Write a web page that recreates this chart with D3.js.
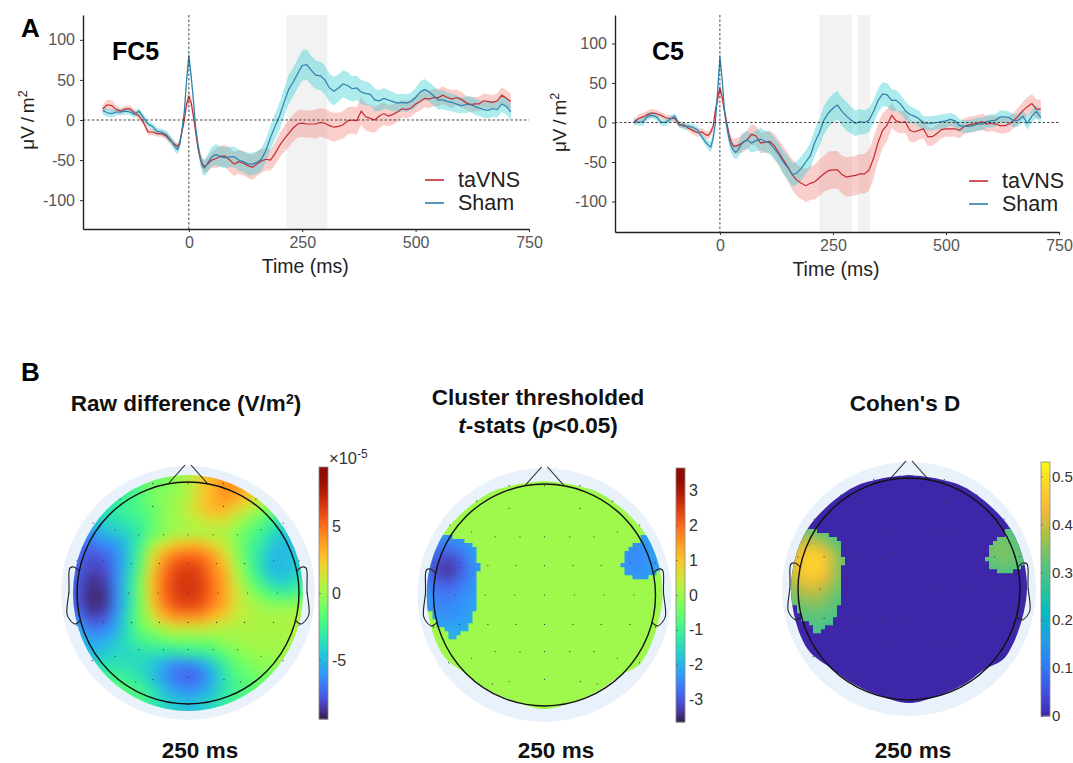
<!DOCTYPE html>
<html>
<head>
<meta charset="utf-8">
<script src="https://cdn.jsdelivr.net/npm/d3@7"></script>
<style>
  body { margin: 0; background: #fff; }
  text { font-family: "Liberation Sans", Arial, sans-serif; }
</style>
</head>
<body>
<div id="chart"></div>
<script>
// time grid of the ERP traces (ms)
var times = [-190,-180,-170,-160,-150,-140,-130,-120,-110,-100,
  -90,-80,-70,-60,-50,-40,
  -30,-25,-20,-15,-10,-5,0,5,10,15,20,25,30,35,40,
  50,60,70,80,90,100,110,120,130,140,
  150,160,170,180,190,200,210,220,230,240,
  250,260,270,280,290,300,310,320,330,340,
  350,360,370,380,390,400,410,420,430,440,
  450,460,470,480,490,500,510,520,530,540,
  550,560,570,580,590,600,610,620,630,640,
  650,660,670,680,690,700,710];

var fc5Tavns = [14,19,18,13,11,14,14,9,5,-3,
  -15,-15,-17,-17,-20,-26,
  -31,-33,-28,-14,0,20,29,22,5,-15,-35,-47,-55,-58,-56,
  -50,-48,-45,-45,-50,-55,-52,-54,-57,-59,
  -55,-51,-49,-50,-42,-32,-24,-17,-10,-5,
  -4,-5,-5,-5,-3,-4,-7,-9,-8,-6,
  -1,0,-1,11,4,2,0,5,8,5,
  7,10,14,13,15,20,23,27,26,28,
  28,31,28,26,28,26,22,19,20,20,
  24,23,22,24,31,27,23];
var fc5TavnsSe = [5,6,7,5,4,4,4,4,4,4,
  4,4,4,4,4,5,
  4,4,4,5,6,7,8,7,7,6,6,7,8,8,9,
  10,12,13,14,15,15,15,15,15,16,
  15,15,14,13,14,15,16,17,17,17,
  17,17,17,18,18,18,18,18,17,17,
  17,17,17,17,17,17,16,15,14,13,
  13,12,11,11,11,11,11,11,11,11,
  11,11,11,11,10,10,9,9,9,9,
  9,9,9,9,10,10,10];
var fc5Sham = [12,9,8,10,10,11,10,7,11,3,
  -5,-8,-14,-15,-18,-25,
  -34,-37,-30,-12,10,50,80,55,25,-10,-30,-48,-58,-60,-55,
  -46,-43,-46,-47,-46,-46,-50,-52,-55,-55,
  -53,-49,-38,-22,-8,5,22,38,47,58,
  68,69,62,56,55,50,40,36,40,45,
  43,39,40,35,33,32,25,24,27,25,
  23,21,22,21,23,28,35,38,35,30,
  25,25,23,22,20,18,19,20,17,15,
  13,12,14,13,20,17,10];
var fc5ShamSe = [5,5,5,4,4,4,4,4,4,4,
  4,4,4,4,5,5,
  6,6,6,7,8,9,10,9,8,7,7,8,9,10,11,
  12,13,13,13,13,13,13,13,14,14,
  14,14,14,15,16,17,17,18,18,18,
  19,19,18,18,18,18,18,18,17,17,
  17,16,15,15,15,14,14,13,13,12,
  12,11,11,11,11,12,13,13,12,12,
  12,12,11,11,11,10,10,10,10,10,
  10,10,10,10,10,10,10];

var c5Tavns = [0,5,7,10,12,11,9,6,5,5,
  -3,-3,-7,-10,-13,-12,
  -16,-16,-12,-5,15,30,43,32,15,0,-15,-25,-30,-30,-29,
  -26,-22,-15,-17,-26,-25,-24,-29,-38,-47,
  -56,-66,-73,-77,-80,-77,-75,-70,-65,-61,
  -60,-60,-66,-69,-68,-67,-65,-65,-60,-45,
  -25,-10,-3,9,2,0,1,-10,-12,-10,
  -8,-18,-18,-14,-9,-8,-8,-8,-10,-5,
  -3,-2,-1,1,-2,-1,-2,-4,-4,-2,
  3,8,15,20,24,17,17];
var c5TavnsSe = [4,5,5,5,5,5,4,4,4,4,
  4,4,4,5,5,5,
  5,5,5,5,6,7,8,8,7,7,7,8,9,10,10,
  12,12,13,13,13,13,14,15,16,17,
  18,19,20,20,21,21,22,23,23,24,
  24,24,24,25,25,25,25,25,26,26,
  24,22,20,16,14,14,14,14,13,12,
  12,12,11,11,11,10,10,10,10,10,
  10,10,10,10,10,10,10,10,10,10,
  10,11,11,12,12,12,12];
var c5Sham = [2,0,1,8,9,7,0,0,4,8,
  -2,-5,-5,-6,-9,-18,
  -26,-29,-31,-20,0,40,83,55,15,-5,-20,-30,-35,-38,-35,
  -25,-22,-26,-23,-21,-24,-26,-33,-40,-50,
  -57,-66,-64,-58,-50,-42,-25,-13,3,12,
  18,22,14,8,3,-1,1,0,3,14,
  28,36,35,28,28,23,15,10,8,5,
  -1,-1,-1,0,1,2,4,2,-4,-5,
  -5,-4,-2,-2,1,2,3,7,7,6,
  2,3,8,-1,8,14,6];
var c5ShamSe = [4,4,5,5,4,4,4,4,4,4,
  4,4,4,4,4,4,
  5,6,7,8,8,8,8,8,8,8,8,9,9,9,9,
  10,11,12,13,14,14,14,14,14,15,
  15,15,15,15,15,16,17,17,18,18,
  18,18,18,18,17,16,16,15,15,15,
  15,15,15,14,13,12,12,11,10,10,
  9,9,9,9,9,9,8,8,8,8,
  8,8,8,8,8,8,8,8,8,8,
  8,8,8,8,8,8,7];

var fc5Windows = [[215, 305]];
var c5Windows = [[220, 292], [305, 332]];
var xTicks = [0, 250, 500, 750];
var yTicks = [-100, -50, 0, 50, 100];

// topography, 21 x 21, in 1e-5 V/m2
var rawDiff = [
  [-3,-3,-3,-3,-3,-3,-2,-1.5,-1,0,.5,2,3,4,4,3,2,1,0,-1,-1],
  [-4,-4,-4,-4,-3.5,-3,-2,-1,-1,-.5,.5,2,3,4,4,3,2,1,0,-1,-1],
  [-4,-4,-4,-4,-3,-2.5,-2,-1,-.5,0,.5,2,3,4,3.5,2.5,1,0,-1,-2,-2],
  [-5,-5,-4.5,-3.5,-3,-2.5,-2,-1.5,-.5,0,1,2,3,3,2,1,0,-1,-2.5,-3.5,-4],
  [-6,-6,-5,-4,-3.5,-3,-2.5,-1.5,-.5,0,.5,1,1.5,1.5,.5,-.5,-1.5,-2.5,-4,-4.5,-5],
  [-6,-6,-6,-5,-4.5,-4,-3,-1.5,-.5,0,.3,.3,.3,.3,-.5,-1.5,-2.5,-3.5,-4.5,-4.5,-5],
  [-7,-7,-7,-6.5,-6,-4.5,-2.5,0,1.5,2.5,3,3,2,1,-.5,-2,-3,-4.5,-5,-5,-5],
  [-7,-7.5,-8,-7.5,-6.5,-4.5,-2,1.5,3.5,5,5.3,5,4,2,0,-2,-3.5,-5,-5,-4.5,-4],
  [-7,-7.5,-8.3,-8.1,-6.5,-4.5,-1.5,2,4.5,6,6.3,6,4.5,3,.5,-1.5,-3.5,-5,-5,-4.5,-4],
  [-7,-8,-8.8,-8.5,-6.5,-4,-1,2.5,5,6.3,6.6,6.3,5,3.5,1,-.8,-2.5,-4,-4.5,-3.5,-3],
  [-7,-8,-9,-8.8,-6.5,-4,-1,2.5,5,6.3,6.6,6.3,5,3.5,1.5,0,-1.2,-2.2,-2.7,-2.3,-2],
  [-7,-8,-9,-8.8,-6.5,-4,-1,2,4.5,5.8,6.1,5.8,4.5,3.5,1.5,.5,0,-.5,-.5,-.5,0],
  [-6,-7,-8.3,-7.9,-6,-3.5,-1,1,3,4,4,4,3,2,1,.5,.3,.3,.3,.5,.5],
  [-5,-5.5,-7,-6.5,-5.5,-3.5,-1.5,-.5,.5,1,1,1,.8,.5,.3,.3,.3,.3,.3,.3,.5],
  [-5,-5,-5.5,-5.5,-4.5,-3.5,-2.5,-2,-1.5,-1,-1,-1,-.8,-.3,0,.2,.2,.2,.2,.2,.2],
  [-5,-5,-5,-4.5,-4,-4,-3.5,-3.5,-3.5,-3.5,-3,-3,-2.5,-1.5,-.8,-.3,0,0,0,0,0],
  [-4,-4,-4,-3.5,-3.5,-3.5,-4,-4.5,-5.5,-6.5,-6.5,-6,-4.5,-3,-1.5,-1,-.5,-.5,0,0,0],
  [-2,-2,-2,-2.5,-2.5,-3,-3.5,-4.5,-6,-7,-7.5,-7,-5.5,-3.5,-2,-1.5,-1,-1,-1,-1,-1],
  [-1.5,-1.5,-1.5,-1.5,-1.5,-2,-2.5,-3.5,-5,-6,-6.5,-6,-5,-3.5,-2.5,-2,-1.5,-1.5,-1.5,-1.5,-1.5],
  [-2,-2,-2,-2,-2,-2,-2,-3,-4,-4.5,-5,-4.5,-4,-3,-2.5,-2,-2,-2,-2,-2,-2],
  [-3,-3,-3,-3,-3,-3,-3,-3,-4,-4.5,-5,-4.5,-4,-3,-3,-3,-3,-3,-3,-3,-3]
];

// significant clusters: left block starts at map column 0, right block at column 15,
// both start at map row 4
var tstatLeft = [
  [-2.3,-2.3,-2.3,-2.3,-2.3,-2.3],
  [-2.4,-2.4,-2.4,-2.3,-2.2,-2.2],
  [-2.5,-2.6,-2.7,-2.5,-2.3,-2.2],
  [-2.6,-3.0,-3.2,-2.9,-2.4,-2.2],
  [-2.6,-3.2,-3.4,-3.0,-2.5,-2.3],
  [-2.5,-2.9,-3.0,-2.7,-2.4,-2.3],
  [-2.3,-2.6,-2.7,-2.5,-2.3,-2.2],
  [-2.3,-2.5,-2.5,-2.4,-2.2,-2.2],
  [-2.2,-2.3,-2.4,-2.3,-2.2,-2.1],
  [-2.1,-2.1,-2.1,-2.1,-2.1,-2.1],
  [-2.1,-2.1,-2.1,-2.1,-2.1,-2.1]
];
var tstatRight = [
  [-2.2,-2.2,-2.2,-2.2,-2.2,-2.2],
  [-2.2,-2.2,-2.3,-2.3,-2.2,-2.2],
  [-2.2,-2.3,-2.4,-2.4,-2.3,-2.2],
  [-2.2,-2.3,-2.5,-2.5,-2.3,-2.2],
  [-2.2,-2.3,-2.4,-2.4,-2.3,-2.2],
  [-2.2,-2.2,-2.3,-2.3,-2.2,-2.2]
];
var cohenLeft = [
  [.32,.32,.32,.32,.32,.32],
  [.33,.33,.32,.30,.30,.30],
  [.37,.39,.39,.36,.31,.30],
  [.40,.44,.47,.44,.36,.31],
  [.40,.46,.49,.46,.37,.31],
  [.38,.44,.46,.43,.36,.31],
  [.34,.39,.41,.38,.34,.31],
  [.32,.35,.36,.35,.32,.30],
  [.31,.32,.33,.32,.31,.30],
  [.30,.30,.31,.30,.29,.29],
  [.30,.30,.30,.30,.30,.30]
];
var cohenRight = [
  [.30,.30,.30,.30,.30,.30],
  [.31,.31,.31,.31,.31,.30],
  [.31,.31,.33,.34,.31,.30],
  [.31,.32,.34,.35,.33,.30],
  [.30,.31,.32,.33,.32,.30],
  [.30,.30,.30,.30,.30,.30]
];

// stepped outline of the clusters: [fine row, first fine col, last fine col]
var leftClusterRows = [[-15,-40,-23],[-14,-40,-20],[-13,-40,-18],[-12,-40,-17],[-11,-40,-17],[-10,-40,-17],[-9,-40,-17],
  [-8,-40,-16],[-7,-40,-16],[-6,-40,-17],[-5,-40,-17],[-4,-40,-17],[-3,-40,-17],[-2,-40,-17],[-1,-40,-17],[0,-40,-17],
  [1,-40,-17],[2,-40,-17],[3,-40,-17],[4,-28,-18],[5,-28,-18],[6,-27,-18],[7,-27,-19],[8,-25,-19],[9,-24,-21],[10,-24,-22]];
var rightClusterRows = [[-15,24,40],[-14,24,40],[-13,22,40],[-12,21,40],[-11,20,40],[-10,20,40],[-9,20,40],[-8,19,40],[-7,20,40],[-6,20,28],[-5,22,26]];

// edge of the thresholded maps, radius by angle
var edgeAngles = [0,15,30,60,90,125,137,150,167,180,193,210,224,240,270,300,330,345,360];
var edgeRadii = [114,114,116,118,118,118,110,110,111,114,111,110,111,118,118,118,116,114,114];

// electrode offsets from the map centre, scalp radius = 1
var electrodes = [[-.318,-.985],[0,-.985],[.318,-.985],[-.612,-.845],[.612,-.845],[-.318,-.78],[.321,-.78],
  [-.854,-.63],[.857,-.63],[-.657,-.57],[.657,-.57],[-.445,-.525],[-.221,-.525],[0,-.525],[.227,-.525],[.445,-.525],
  [-1.0,-.29],[-.765,-.29],[.771,-.29],[1.0,-.29],[-.51,-.265],[-.257,-.265],[0,-.265],[.257,-.265],[.51,-.265],
  [-1.07,0],[-.80,0],[-.536,0],[-.269,0],[0,0],[.269,0],[.536,0],[.805,0],[1.07,0],
  [-.765,.265],[-.51,.265],[-.257,.265],[0,.265],[.257,.265],[.51,.265],[.771,.265],[-1.0,.29],[1.0,.29],
  [-.657,.57],[-.445,.51],[-.221,.51],[0,.51],[.227,.51],[.445,.51],[.657,.57],[-.863,.61],[.857,.61],
  [-.47,.8],[-.318,.78],[0,.76],[.324,.78],[.475,.8],[0,1.0]];

// ear and nose shapes, in px from the map centre
var leftEar = [[-108,-21],[-114,-26],[-118,-25],[-119,-21],[-119,-3],[-121,21],[-118,27],[-113,31],[-107,27]];
var noseLeft = [[-19,-110],[-3,-128]];

// parula stops for the Cohen's D map
var parula = ["#3e26a8","#4352e8","#2f7cf5","#1f9ee3","#06b9c5","#2ac49b","#5ac37d","#a0c24a","#f0b83a","#fdd02e","#f9fb15"];

var svg = d3.select("#chart").append("svg")
    .attr("width", 1073)
    .attr("height", 763)
    .style("display", "block");

var defs = svg.append("defs");
defs.append("filter")
    .attr("id", "soft")
    .attr("color-interpolation-filters", "sRGB")
    .attr("x", "-10%").attr("y", "-10%").attr("width", "120%").attr("height", "120%")
  .append("feGaussianBlur")
    .attr("stdDeviation", 5.5);

//Line panels
function drawTraces(cfg) {
  var x = d3.scaleLinear().domain([cfg.xMin, 750]).range([cfg.left, cfg.right]);
  var y = d3.scaleLinear().domain(cfg.yDomain).range([cfg.bottom, cfg.top]);
  var g = svg.append("g");

  g.selectAll(".window")
      .data(cfg.windows)
    .enter().append("rect")
      .attr("x", function(d) { return x(d[0]); })
      .attr("width", function(d) { return x(d[1]) - x(d[0]); })
      .attr("y", cfg.top)
      .attr("height", cfg.bottom - cfg.top)
      .attr("fill", "#f2f2f2");

  var series = [
    {mean: cfg.tavns, se: cfg.tavnsSe, fill: "#f48a84", line: "#c62a33"},
    {mean: cfg.sham, se: cfg.shamSe, fill: "#3cd0d4", line: "#2f7fae"}
  ];
  var area = d3.area()
      .x(function(d) { return x(d.t); })
      .y0(function(d) { return y(d.v - d.s); })
      .y1(function(d) { return y(d.v + d.s); });
  var line = d3.line()
      .x(function(d) { return x(d.t); })
      .y(function(d) { return y(d.v); });

  series.forEach(function(s) {
    var rows = times.map(function(t, i) { return {t: t, v: s.mean[i], s: s.se[i]}; });
    s.rows = rows;
    g.append("path").attr("d", area(rows)).attr("fill", s.fill).attr("opacity", 0.42);
  });
  series.forEach(function(s) {
    g.append("path").attr("d", line(s.rows)).attr("fill", "none").attr("stroke", s.line).attr("stroke-width", 1.2);
  });

  // reference lines
  g.append("line")
      .attr("x1", cfg.left).attr("x2", cfg.right + 0)
      .attr("y1", y(0)).attr("y2", y(0))
      .attr("stroke", "#333").attr("stroke-width", 0.9).attr("stroke-dasharray", "2.5,2");
  g.append("line")
      .attr("x1", x(0)).attr("x2", x(0))
      .attr("y1", cfg.top).attr("y2", cfg.bottom)
      .attr("stroke", "#333").attr("stroke-width", 0.9).attr("stroke-dasharray", "2.5,2");

  var plain = function(d) { return String(d); };
  var xAxis = g.append("g")
      .attr("transform", "translate(0," + cfg.bottom + ")")
      .call(d3.axisBottom(x).tickValues(xTicks).tickFormat(plain).tickSize(3).tickSizeOuter(0).tickPadding(5));
  var yAxis = g.append("g")
      .attr("transform", "translate(" + cfg.left + ",0)")
      .call(d3.axisLeft(y).tickValues(yTicks).tickFormat(plain).tickSize(3).tickSizeOuter(0).tickPadding(5));
  [xAxis, yAxis].forEach(function(a) {
    a.select(".domain").attr("stroke", "#222").attr("stroke-width", 1.4);
    a.selectAll(".tick line").attr("stroke", "#333");
    a.selectAll("text").style("font-size", "16px").attr("fill", "#555");
  });

  g.append("text")
      .attr("x", x(250) + 3).attr("y", cfg.bottom + 44)
      .attr("text-anchor", "middle")
      .style("font-size", "19.5px").attr("fill", "#222")
      .text("Time (ms)");
  var yl = g.append("text")
      .attr("transform", "translate(" + cfg.yLabelX + "," + y(0) + ") rotate(-90)")
      .attr("text-anchor", "middle")
      .style("font-size", "19px").attr("fill", "#222");
  yl.append("tspan").text("μV\u2009/\u2009m");
  yl.append("tspan").attr("dy", -7).style("font-size", "12.5px").text("2");

  g.append("text")
      .attr("x", cfg.nameX).attr("y", 60)
      .style("font-size", "25px").style("font-weight", "bold").attr("fill", "#000")
      .text(cfg.name);

  // legend
  var names = ["taVNS", "Sham"];
  names.forEach(function(n, i) {
    var ly = cfg.legendY + i * 23;
    g.append("line")
        .attr("x1", cfg.legendX).attr("x2", cfg.legendX + 19)
        .attr("y1", ly).attr("y2", ly)
        .attr("stroke", series[i].line).attr("stroke-width", 1.6);
    g.append("text")
        .attr("x", cfg.legendX + 33).attr("y", ly + 7)
        .style("font-size", "21.5px").attr("fill", "#222")
        .text(n);
  });
}

drawTraces({name: "FC5", nameX: 112, windows: fc5Windows,
  tavns: fc5Tavns, tavnsSe: fc5TavnsSe, sham: fc5Sham, shamSe: fc5ShamSe,
  left: 83, right: 529, xMin: -233.4, top: 15, bottom: 229, yDomain: [-136, 131],
  yLabelX: 34, legendX: 425, legendY: 180});
drawTraces({name: "C5", nameX: 652, windows: c5Windows,
  tavns: c5Tavns, tavnsSe: c5TavnsSe, sham: c5Sham, shamSe: c5ShamSe,
  left: 615, right: 1059, xMin: -232, top: 15, bottom: 232, yDomain: [-138.6, 136],
  yLabelX: 566, legendX: 969, legendY: 181});

//Topographic maps
var gridStep = 12;   // px between cells of the coarse map
var fineStep = 4;    // px between rows of the stepped cluster outline

function cellBlock(g, rows, col0, row0, color) {
  rows.forEach(function(r, j) {
    g.selectAll(null)
        .data(r)
      .enter().append("rect")
        .attr("x", function(d, i) { return (col0 + i - 10) * gridStep - gridStep / 2 - 0.2; })
        .attr("y", (row0 + j - 10) * gridStep - gridStep / 2 - 0.2)
        .attr("width", gridStep + 0.4)
        .attr("height", gridStep + 0.4)
        .attr("fill", function(d) { return color(d); });
  });
}

function headOutline(g) {
  var sc = 111;
  var earPath = d3.line().curve(d3.curveCatmullRom);
  g.append("circle").attr("r", sc).attr("fill", "none").attr("stroke", "#111").attr("stroke-width", 1.4);
  [1, -1].forEach(function(side) {
    g.append("path")
        .attr("d", earPath(leftEar.map(function(p) { return [side * p[0], p[1]]; })))
        .attr("fill", "none").attr("stroke", "#222").attr("stroke-width", 1.1);
    g.append("path")
        .attr("d", d3.line()(noseLeft.map(function(p) { return [side * p[0], p[1]]; })))
        .attr("fill", "none").attr("stroke", "#222").attr("stroke-width", 1.1);
  });
  g.selectAll(".electrode")
      .data(electrodes)
    .enter().append("circle")
      .attr("class", "electrode")
      .attr("cx", function(d) { return d[0] * sc; })
      .attr("cy", function(d) { return d[1] * sc; })
      .attr("r", 0.6)
      .attr("fill", "#333");
}

function drawColorbar(cfg) {
  var y = d3.scaleLinear().domain(cfg.domain).range([cfg.y1, cfg.y0]);
  var g = svg.append("g");
  var steps = d3.range(cfg.y0, cfg.y1, 2);
  g.selectAll("rect.step")
      .data(steps)
    .enter().append("rect")
      .attr("class", "step")
      .attr("x", cfg.x)
      .attr("y", function(d) { return d; })
      .attr("width", 9)
      .attr("height", 2.4)
      .attr("fill", function(d) { return cfg.color(y.invert(d + 1)); });
  g.append("rect")
      .attr("x", cfg.x).attr("y", cfg.y0)
      .attr("width", 9).attr("height", cfg.y1 - cfg.y0)
      .attr("fill", "none").attr("stroke", "#888").attr("stroke-width", 0.8);
  var axis = g.append("g")
      .attr("transform", "translate(" + (cfg.x + 9) + ",0)")
      .call(d3.axisRight(y).tickValues(cfg.ticks).tickSize(0).tickPadding(cfg.pad)
        .tickFormat(function(d) { return d; }));
  axis.select(".domain").remove();
  axis.selectAll("text").style("font-size", cfg.fontSize).attr("fill", "#333");
  axis.selectAll(".tick").append("line")
      .attr("x1", -9).attr("x2", -7).attr("stroke", "#555").attr("stroke-width", 0.7);
  return g;
}

// matlab turbo sits a touch further along than d3's fit
var turbo = function(t) { return d3.interpolateTurbo(Math.min(1, t + 0.012)); };
var rawColor = d3.scaleSequential(turbo).domain([-9.4, 9.4]);
var tColor = d3.scaleSequential(turbo).domain([-3.65, 3.65]);
var dColor = d3.scaleLinear()
    .domain(parula.map(function(c, i) { return 0.53 * i / (parula.length - 1); }))
    .range(parula);

var mapSpecs = [
  {id: "raw", cx: 188, cy: 593},
  {id: "tstat", cx: 544.5, cy: 595, base: tColor(0), left: tstatLeft, right: tstatRight, color: tColor, under: tColor(-2.3)},
  {id: "cohen", cx: 909, cy: 589, base: dColor(0), left: cohenLeft, right: cohenRight, color: dColor, under: dColor(0.31)}
];
var edgeLine = d3.lineRadial()
    .angle(function(d, i) { return edgeAngles[i] * Math.PI / 180; })
    .radius(function(d) { return d; })
    .curve(d3.curveCatmullRomClosed);

// stepped cluster mask shared by the two thresholded maps
var clusterClip = defs.append("clipPath").attr("id", "cluster-clip");
leftClusterRows.concat(rightClusterRows).forEach(function(r) {
  clusterClip.append("rect")
      .attr("x", r[1] * fineStep)
      .attr("y", r[0] * fineStep)
      .attr("width", (r[2] - r[1]) * fineStep)
      .attr("height", fineStep + 0.2);
});

mapSpecs.forEach(function(m) {
  var g = svg.append("g").attr("transform", "translate(" + m.cx + "," + m.cy + ")");
  g.append("circle").attr("r", 127).attr("fill", "#e9f1fb");

  var clip = defs.append("clipPath").attr("id", "edge-" + m.id);
  if (m.id == "raw") {
    clip.append("ellipse").attr("rx", 115).attr("ry", 118);
    var body = g.append("g").attr("clip-path", "url(#edge-raw)");
    var blurred = body.append("g").attr("filter", "url(#soft)");
    blurred.append("rect").attr("x", -160).attr("y", -160).attr("width", 320).attr("height", 320)
        .attr("fill", rawColor(-3));
    cellBlock(blurred, rawDiff, 0, 0, rawColor);
  } else {
    clip.append("path").attr("d", edgeLine(edgeRadii));
    var body2 = g.append("g").attr("clip-path", "url(#edge-" + m.id + ")");
    body2.append("rect").attr("x", -130).attr("y", -130).attr("width", 260).attr("height", 260)
        .attr("fill", m.base);
    var blob = body2.append("g").attr("clip-path", "url(#cluster-clip)")
      .append("g").attr("filter", "url(#soft)");
    blob.append("rect").attr("x", -170).attr("y", -110).attr("width", 340).attr("height", 190)
        .attr("fill", m.under);
    cellBlock(blob, m.left, 0, 4, m.color);
    cellBlock(blob, m.right, 15, 4, m.color);
  }
  headOutline(g);
});

drawColorbar({x: 319, y0: 467, y1: 719, domain: [-9.4, 9.4], ticks: [-5, 0, 5], color: rawColor, pad: 4, fontSize: "16px"});
drawColorbar({x: 676, y0: 468, y1: 722, domain: [-3.65, 3.65], ticks: [-3, -2, -1, 0, 1, 2, 3], color: tColor, pad: 4, fontSize: "16px"});
drawColorbar({x: 1041, y0: 462, y1: 716, domain: [0, 0.53], ticks: [0, 0.1, 0.2, 0.3, 0.4, 0.5], color: dColor, pad: 2, fontSize: "15px"});

var expo = svg.append("text").attr("x", 329).attr("y", 464).attr("fill", "#333").style("font-size", "16.5px");
expo.append("tspan").text("×10");
expo.append("tspan").attr("dy", -6).style("font-size", "12px").text("-5");

//Panel letters and titles
svg.append("text").attr("x", 21).attr("y", 37)
    .style("font-size", "26px").style("font-weight", "bold").text("A");
svg.append("text").attr("x", 21).attr("y", 381)
    .style("font-size", "26px").style("font-weight", "bold").text("B");

function title(x, y) {
  return svg.append("text")
      .attr("x", x).attr("y", y)
      .attr("text-anchor", "middle")
      .style("font-size", "22.5px").style("font-weight", "bold").attr("fill", "#111");
}
var t1 = title(186, 411);
t1.append("tspan").text("Raw difference (V/m");
t1.append("tspan").attr("dy", -7).style("font-size", "14px").text("2");
t1.append("tspan").attr("dy", 7).text(")");
title(538, 405).text("Cluster thresholded");
var t2 = title(538, 433);
t2.append("tspan").style("font-style", "italic").text("t");
t2.append("tspan").text("-stats (");
t2.append("tspan").style("font-style", "italic").text("p");
t2.append("tspan").text("<0.05)");
title(905, 411).text("Cohen's D");

[200, 556, 913].forEach(function(x) {
  title(x, 758).text("250 ms");
});
</script>
</body>
</html>
